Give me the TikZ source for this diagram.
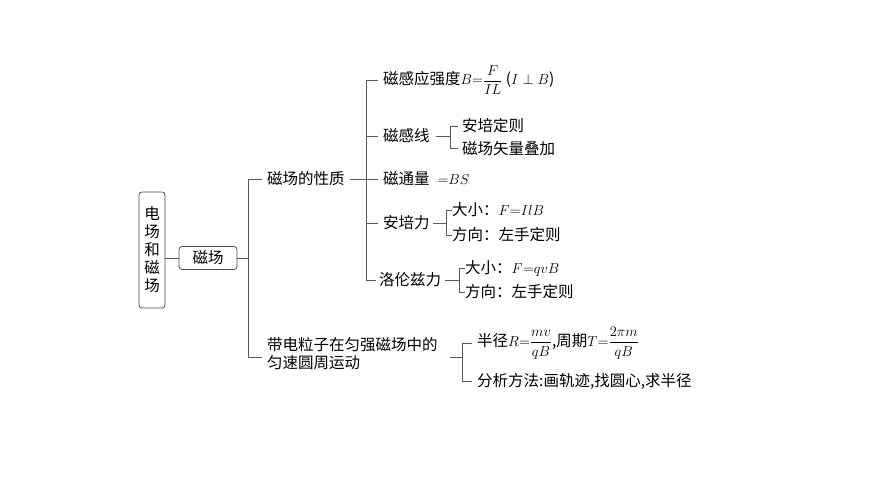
\documentclass[tikz,border=0pt]{standalone}
\usepackage{amsmath}
\usepackage{fontspec}
\newfontfamily\cjk{Noto Sans CJK SC}
\begin{document}
\begin{tikzpicture}[x=1pt,y=-1pt,
  ln/.style={line width=0.8pt,draw=black!65},
  tx/.style={font=\cjk\fontsize{15.5}{18}\selectfont,inner sep=0pt,anchor=west},
  bx/.style={draw=black!70,line width=0.8pt,rounded corners=3pt,font=\cjk\fontsize{15.5}{18}\selectfont}]
\useasboundingbox (0,0) rectangle (870,489);
\node[bx,minimum width=26pt,minimum height=116pt,align=center,inner sep=1pt] (root) at (152,250) {电\\场\\和\\磁\\场};
\node[bx,minimum width=58pt,minimum height=23pt] (cc) at (208,258) {磁场};
\draw[ln] (root.east |- cc) -- (cc.west);
\coordinate (v1) at (248,258);
\draw[ln] (cc.east) -- (v1);
\node[tx] (xz) at (267,179) {磁场的性质};
\node[tx,align=left] (dd) at (267,354) {带电粒子在匀强磁场中的\\匀速圆周运动};
\draw[ln] (262,179) -- (248,179) -- (248,357) -- (262,357);
% properties
\node[tx] (a1) at (383,80) {磁感应强度$B{=}\dfrac{F}{IL}$\ ($I\perp B$)};
\node[tx] (a2) at (383,136) {磁感线};
\node[tx] (a3) at (383,179) {磁通量 $\mathit{\Phi}{=}BS$};
\node[tx] (a4) at (383,223) {安培力};
\node[tx] (a5) at (379,280) {洛伦兹力};
\draw[ln] (350,179) -- (378,179);
\draw[ln] (378,80) -- (366,80) -- (366,280) -- (376,280);
\draw[ln] (366,136) -- (378,136);
\draw[ln] (366,223) -- (378,223);
% brackets
\node[tx] (b1) at (462,126) {安培定则};
\node[tx] (b2) at (462,149) {磁场矢量叠加};
\draw[ln] (436,136) -- (450,136);
\draw[ln] (458,126) -- (450,126) -- (450,148) -- (458,148);
\node[tx] (c1) at (452,210) {大小：$F{=}IlB$};
\node[tx] (c2) at (452,235) {方向：左手定则};
\draw[ln] (433,223) -- (446,223);
\draw[ln] (452,210) -- (446,210) -- (446,235) -- (452,235);
\node[tx] (d1) at (465,268) {大小：$F{=}qvB$};
\node[tx] (d2) at (465,292) {方向：左手定则};
\draw[ln] (445,280) -- (459,280);
\draw[ln] (465,268) -- (459,268) -- (459,292) -- (465,292);
\node[tx] (e1) at (477,343) {半径$R{=}\dfrac{mv}{qB}$,周期$T{=}\dfrac{2\pi m}{qB}$};
\node[tx] (e2) at (477,381) {分析方法:画轨迹,找圆心,求半径};
\draw[ln] (450,357) -- (462,357);
\draw[ln] (472,343) -- (462,343) -- (462,381) -- (472,381);
\end{tikzpicture}
\end{document}
